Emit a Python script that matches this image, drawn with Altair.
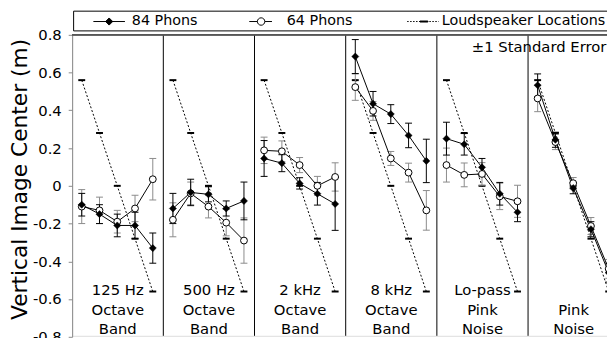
import math
import altair as alt
import pandas as pd

# ---------------- data ----------------
panel_labels = ["125 Hz\nOctave\nBand", "500 Hz\nOctave\nBand", "2 kHz\nOctave\nBand",
                "8 kHz\nOctave\nBand", "Lo-pass\nPink\nNoise", "\nPink\nNoise"]
speaker_locations = [0.56, 0.28, 0.0, -0.28, -0.56]

phon84_mean = [
    [-0.10, -0.15, -0.21, -0.21, -0.33],
    [-0.12, -0.035, -0.045, -0.12, -0.08],
    [0.145, 0.12, 0.013, -0.042, -0.096],
    [0.685, 0.435, 0.38, 0.267, 0.132],
    [0.25, 0.22, 0.098, -0.042, -0.14],
    [0.533, 0.244, -0.012, -0.23, -0.46],
]
phon84_se = [
    [0.06, 0.05, 0.06, 0.07, 0.08],
    [0.08, 0.07, 0.04, 0.04, 0.10],
    [0.095, 0.045, 0.03, 0.06, 0.14],
    [0.09, 0.065, 0.05, 0.065, 0.115],
    [0.087, 0.057, 0.047, 0.06, 0.05],
    [0.06, 0.04, 0.03, 0.04, 0.05],
]
phon64_mean = [
    [-0.11, -0.13, -0.19, -0.12, 0.035],
    [-0.18, -0.04, -0.11, -0.195, -0.29],
    [0.188, 0.183, 0.11, 0.0, 0.047],
    [0.523, 0.397, 0.145, 0.07, -0.13],
    [0.11, 0.058, 0.063, -0.056, -0.082],
    [0.463, 0.232, 0.014, -0.213, -0.44],
]
phon64_se = [
    [0.09, 0.07, 0.06, 0.07, 0.11],
    [0.09, 0.06, 0.06, 0.07, 0.12],
    [0.07, 0.055, 0.04, 0.05, 0.075],
    [0.07, 0.05, 0.037, 0.05, 0.105],
    [0.09, 0.063, 0.06, 0.07, 0.085],
    [0.07, 0.04, 0.03, 0.045, 0.05],
]
series_names = ["84 Phons", "64 Phons", "Loudspeaker Locations"]
y_ticks = [-0.8, -0.6, -0.4, -0.2, 0.0, 0.2, 0.4, 0.6, 0.8]
y_title = "Vertical Image Center (m)"
note_text = ["\u00b11 Standard Error"]

# ---------------- tables ----------------
rows = []
for p in range(len(panel_labels)):
    for k in range(5):
        rows.append({"panel": p, "pos": k + 1, "series": series_names[0],
                     "mean": phon84_mean[p][k], "se": phon84_se[p][k]})
        rows.append({"panel": p, "pos": k + 1, "series": series_names[1],
                     "mean": phon64_mean[p][k], "se": phon64_se[p][k]})
        rows.append({"panel": p, "pos": k + 1, "series": series_names[2],
                     "mean": speaker_locations[k], "se": 0.0})
df = pd.DataFrame(rows)
labels_df = pd.DataFrame({"panel": list(range(len(panel_labels))), "label": panel_labels})
dividers_df = pd.DataFrame({"panel": list(range(1, len(panel_labels)))})
note_df = pd.DataFrame({"t": note_text})

# ---------------- geometry / style ----------------
W, H = 542, 305
PW = 92.4 / 18.0          # panel width in position units
XCALC = f"datum.panel * {PW} + datum.pos - 0.46"
xs = alt.Scale(domain=[0, W / 18.0])
ys = alt.Scale(domain=[-0.8, 0.8], range=[306, 0])
FONT = "DejaVu Sans"

yaxis = alt.Axis(
    values=y_ticks, tickCount=len(y_ticks), grid=False, labelOverlap=False, format=".1~f",
    domainColor="#888888", tickColor="#888888", tickSize=4, labelPadding=7,
    labelFont=FONT, labelFontSize=15, labelColor="black",
    titleFont=FONT, titleFontSize=22, titleFontWeight="normal", titleColor="black",
    titleX=-53, titleY=146, titleAngle=270, titleAlign="center", titleBaseline="middle",
)


def X(field="x:Q"):
    return alt.X(field, scale=xs, axis=None)


def Y(field):
    return alt.Y(field, scale=ys, axis=yaxis, title=y_title)


base = alt.Chart(df).transform_calculate(
    x=XCALC, lo="datum.mean - datum.se", hi="datum.mean + datum.se")

CAP = "M-1,0H1"

dividers = alt.Chart(dividers_df).transform_calculate(
    x=f"datum.panel * {PW}").mark_rule(color="black", strokeWidth=1).encode(x=X())
top_rule = alt.Chart(dividers_df).mark_rule(color="#555555", strokeWidth=1).encode(y=alt.value(0))

spk = base.transform_filter(alt.datum.series == series_names[2])
spk_line = spk.mark_line(color="black", strokeWidth=1, strokeDash=[2, 2]).encode(
    x=X(), y=Y("mean:Q"), detail="panel:N", order="pos:Q")
spk_marks = spk.mark_point(shape=CAP, size=49, filled=False, stroke="black",
                           strokeWidth=2, opacity=1).encode(x=X(), y=Y("mean:Q"))


def errbars(name, color):
    s = base.transform_filter(alt.datum.series == name)
    bar = s.mark_rule(color=color, strokeWidth=1).encode(x=X(), y=Y("lo:Q"), y2="hi:Q")
    caps = s.transform_fold(["lo", "hi"], as_=["end", "val"]).mark_point(
        shape=CAP, size=49, filled=False, stroke=color, strokeWidth=1, opacity=1
    ).encode(x=X(), y=Y("val:Q"))
    return [bar, caps]


def series_line(name):
    return base.transform_filter(alt.datum.series == name).mark_line(
        color="black", strokeWidth=1).encode(x=X(), y=Y("mean:Q"), detail="panel:N", order="pos:Q")


pts64 = base.transform_filter(alt.datum.series == series_names[1]).mark_point(
    shape="circle", size=48, filled=True, fill="white", stroke="black", strokeWidth=1, opacity=1
).encode(x=X(), y=Y("mean:Q"))
pts84 = base.transform_filter(alt.datum.series == series_names[0]).mark_point(
    shape="diamond", size=52, filled=True, fill="black", stroke="black", strokeWidth=0.5, opacity=1
).encode(x=X(), y=Y("mean:Q"))

labels = alt.Chart(labels_df).transform_calculate(
    x=f"datum.panel * {PW} + {PW / 2}").mark_text(
    align="center", baseline="top", lineBreak="\n", lineHeight=20,
    font=FONT, fontSize=15, color="black").encode(x=X(), y=alt.datum(-0.515), text="label:N")

note = alt.Chart(note_df).mark_text(
    align="left", baseline="middle", font=FONT, fontSize=15, color="black"
).encode(x=alt.value(405), y=alt.value(12), text="t:N")


# ---- legend symbols (custom paths, unit = 8px) ----
def dash_segments(a, b, d=0.1875, g=0.1875):
    out, x = [], a
    while x < b - 1e-9:
        e = min(x + d, b)
        out.append(f"M{x:.4f},0H{e:.4f}")
        x = e + g
    return "".join(out)


def polygon(cx, r, n=16):
    pts = [(cx + r * math.cos(2 * math.pi * i / n), r * math.sin(2 * math.pi * i / n)) for i in range(n)]
    return "M" + "L".join(f"{x:.4f},{y:.4f}" for x, y in pts) + "Z"


p84 = "M1.1875,0H5.1875M3.1875,-0.45L3.6375,0L3.1875,0.45L2.7375,0Z"
p64 = "M1.3125,0H2.34M3.28,0H4.1875" + polygon(2.81, 0.47)
pls = (dash_segments(1.6875, 3.3125) + "M3.3125,-0.0625H4.3125V0.0625H3.3125Z"
       + dash_segments(4.5, 5.6875))

leg = alt.Legend(
    orient="none", legendX=1, legendY=-24.5, direction="horizontal", title=None,
    strokeColor="black", fillColor="white", padding=2.5, cornerRadius=0, gridAlign="each",
    labelFont=FONT, labelFontSize=14.5, labelColor="black", labelOffset=40, labelLimit=400,
    labelExpr="datum.label == 'Loudspeaker Locations' ? datum.label + '\u00a0\u00a0\u00a0' : datum.label",
    columnPadding=33, symbolSize=256, symbolStrokeWidth=1, symbolStrokeColor="black",
)
legend_layer = alt.Chart(df).transform_filter("false").mark_point(
    filled=True, size=256, strokeWidth=1, opacity=1
).encode(
    x=X("pos:Q"), y=Y("mean:Q"),
    shape=alt.Shape("series:N", scale=alt.Scale(domain=series_names, range=[p84, p64, pls]), legend=leg),
    fill=alt.Fill("series:N", scale=alt.Scale(domain=series_names, range=["black", "white", "black"]), legend=leg),
    stroke=alt.Stroke("series:N", scale=alt.Scale(domain=series_names, range=["black", "black", "black"]), legend=leg),
)

layers = [dividers, top_rule, spk_line, spk_marks]
layers += errbars(series_names[1], "#8a8a8a")
layers += errbars(series_names[0], "black")
layers += [series_line(series_names[1]), series_line(series_names[0]), pts64, pts84,
           labels, note, legend_layer]

chart = alt.layer(*layers).properties(
    width=W, height=H,
    autosize=alt.AutoSizeParams(type="none"),
    padding={"left": 65, "top": 25, "right": 0, "bottom": 0},
).configure_view(stroke=None).configure_axis(labelOverlap=False).configure(font=FONT)

chart.save("out.html", embed_options={
    "renderer": "svg", "actions": False,
    "formatLocale": {"decimal": ".", "thousands": ",", "grouping": [3],
                     "currency": ["$", ""], "minus": "-"},
})
